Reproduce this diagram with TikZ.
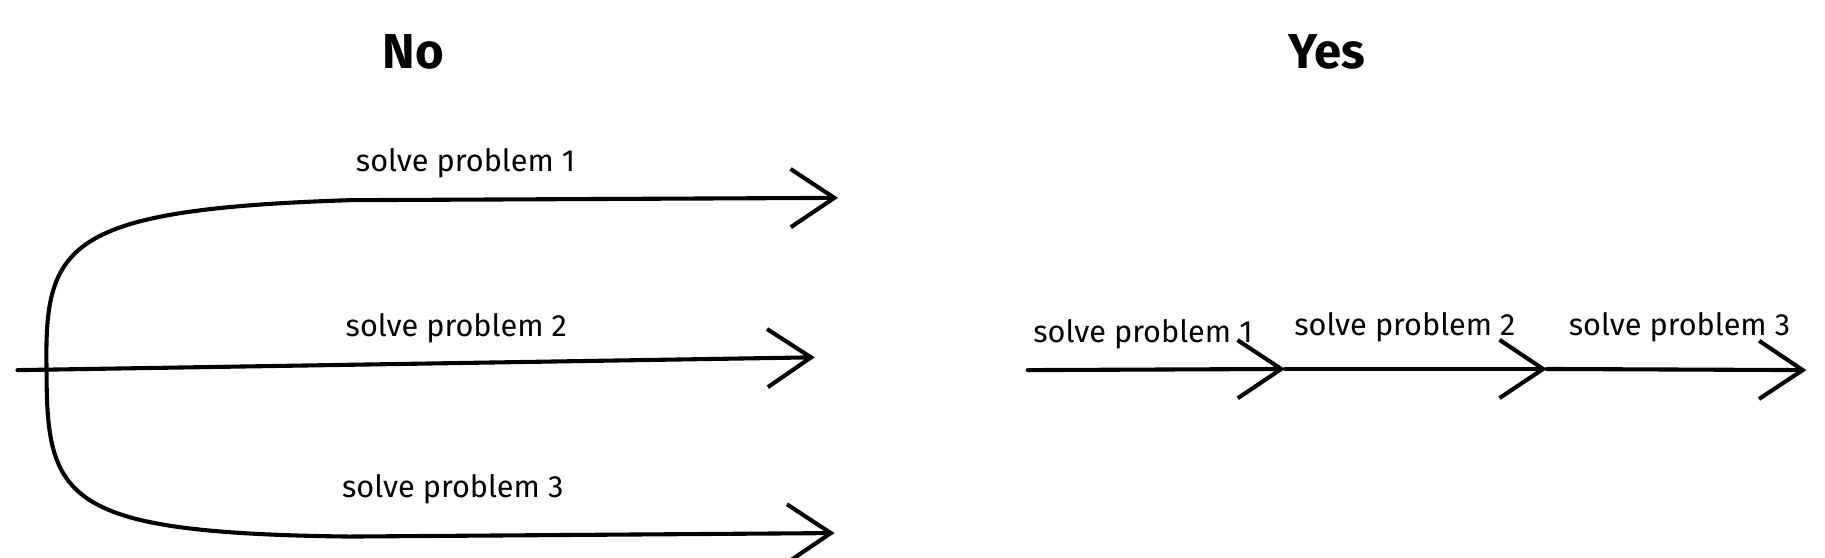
\documentclass[tikz,border=0pt]{standalone}
\usepackage{fontspec}
\setmainfont{Fira Sans}
\usetikzlibrary{arrows.meta}
\begin{document}
\begin{tikzpicture}[x=0.02cm,y=-0.02cm,
  arr/.style={line width=2pt,line cap=round,-{Straight Barb[length=0.75cm,width=1.0cm,line width=2pt]}},
  lbl/.style={font=\fontsize{15}{18}\selectfont,inner sep=0},
  ttl/.style={font=\fontsize{24}{28}\selectfont\bfseries,inner sep=0}]
\useasboundingbox (0,0) rectangle (1568,479);
\node[ttl] (no) at (355,45) {No};
\node[ttl] (yes) at (1140,45) {Yes};
\coordinate (s) at (15,318);
\coordinate (j) at (40,318);
\coordinate (e1) at (720,170);
\coordinate (e2) at (700,307);
\coordinate (e3) at (717,458);
\draw[arr] (j) .. controls (38,210) and (55,180) .. (300,172) -- (e1);
\draw[arr] (s) -- (e2);
\draw[arr] (j) .. controls (40,430) and (55,458) .. (300,461) -- (e3);
\node[lbl] (l1) at (400,140) {solve problem 1};
\node[lbl] (l2) at (392,282) {solve problem 2};
\node[lbl] (l3) at (389,420) {solve problem 3};
\coordinate (a0) at (883,318);
\coordinate (a1) at (1104,317);
\coordinate (a2) at (1329,317);
\coordinate (a3) at (1552,318);
\draw[arr] (a0) -- (a1);
\draw[arr] (a1) -- (a2);
\draw[arr] (a2) -- (a3);
\node[lbl] (r1) at (982,287) {solve problem 1};
\node[lbl] (r2) at (1207,281) {solve problem 2};
\node[lbl] (r3) at (1443,281) {solve problem 3};
\end{tikzpicture}
\end{document}
